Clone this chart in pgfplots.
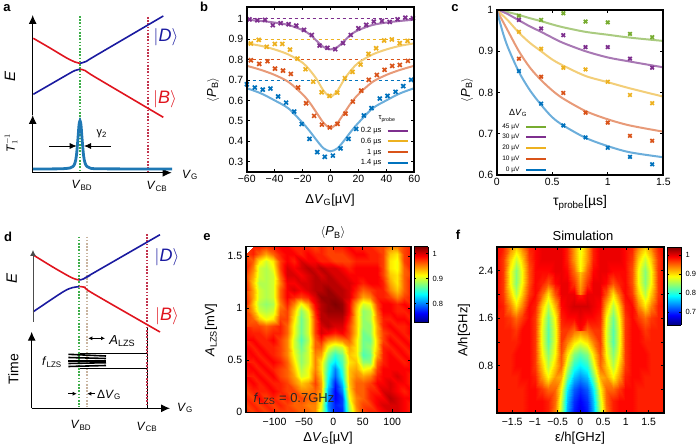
\documentclass[border=0pt]{standalone}
\usepackage{fontspec}
\setmainfont{Liberation Sans}
\usepackage{pgfplots}
\usepackage{pgfplotstable}
\pgfplotsset{compat=1.18}
\usetikzlibrary{arrows.meta}

\definecolor{cpur}{HTML}{7E2F8E}
\definecolor{cyel}{HTML}{EDB120}
\definecolor{cora}{HTML}{D95319}
\definecolor{cblu}{HTML}{0072BD}
\definecolor{cgre}{HTML}{77AC30}
\definecolor{lpur}{HTML}{A878B4}
\definecolor{lyel}{HTML}{F3CE78}
\definecolor{lora}{HTML}{E89A78}
\definecolor{lblu}{HTML}{6CAEDB}
\definecolor{lgre}{HTML}{AACB80}
\definecolor{dred}{HTML}{E0141E}
\definecolor{dblu}{HTML}{1A1AA0}
\definecolor{vgre}{HTML}{3DAE49}
\definecolor{vred}{HTML}{C2334D}
\definecolor{vtan}{HTML}{C9B49F}
\definecolor{pk}{HTML}{1F78B4}

\newcommand{\fs}[1]{\fontsize{#1}{#1}\selectfont}
\newcommand{\sub}[1]{\textsubscript{#1}}
\newcommand{\PB}{$\langle$\textit{P}\sub{B}$\rangle$}

% heatmap e, hundredths, rows from A=0 upward
\pgfplotstableread[row sep=\\,header=false]{
97\\96\\97\\96\\97\\96\\96\\96\\95\\95\\94\\89\\80\\76\\76\\87\\93\\96\\97\\97\\98\\99\\99\\98\\97\\
96\\97\\96\\97\\96\\97\\96\\95\\95\\94\\94\\90\\79\\76\\77\\88\\94\\96\\96\\98\\99\\99\\99\\98\\97\\
97\\96\\98\\96\\97\\96\\97\\95\\96\\95\\95\\92\\79\\75\\77\\90\\94\\95\\97\\98\\98\\100\\99\\98\\98\\
96\\97\\97\\97\\98\\97\\96\\96\\94\\94\\95\\93\\80\\75\\79\\91\\95\\95\\97\\97\\99\\99\\98\\97\\98\\
97\\98\\97\\98\\97\\97\\96\\94\\92\\93\\96\\93\\82\\76\\81\\92\\95\\95\\96\\98\\98\\99\\98\\98\\97\\
98\\97\\98\\97\\98\\96\\95\\93\\89\\90\\95\\92\\83\\78\\83\\92\\94\\93\\94\\97\\98\\98\\99\\98\\97\\
97\\98\\97\\98\\97\\96\\95\\92\\88\\90\\94\\91\\84\\79\\84\\92\\93\\90\\91\\96\\98\\98\\98\\98\\98\\
98\\97\\98\\97\\98\\97\\95\\91\\87\\89\\94\\91\\85\\82\\85\\91\\92\\87\\87\\95\\97\\98\\98\\97\\98\\
97\\98\\97\\98\\97\\96\\94\\90\\87\\89\\94\\93\\87\\84\\86\\92\\91\\85\\86\\93\\97\\98\\97\\98\\97\\
98\\97\\98\\97\\97\\96\\94\\89\\86\\89\\95\\95\\90\\88\\89\\93\\91\\86\\87\\92\\97\\97\\98\\97\\98\\
97\\98\\97\\97\\98\\96\\94\\89\\85\\88\\95\\97\\94\\93\\94\\95\\91\\86\\86\\92\\96\\98\\97\\98\\97\\
98\\97\\97\\96\\97\\97\\95\\90\\86\\89\\96\\99\\98\\97\\98\\96\\92\\86\\87\\93\\96\\97\\98\\97\\98\\
97\\96\\96\\95\\96\\97\\95\\90\\86\\89\\96\\99\\100\\99\\99\\96\\92\\87\\87\\93\\97\\98\\97\\97\\98\\
96\\95\\92\\90\\91\\96\\96\\91\\86\\89\\96\\100\\100\\100\\100\\97\\92\\87\\88\\94\\97\\97\\98\\98\\97\\
96\\93\\89\\88\\89\\95\\96\\92\\87\\90\\97\\100\\101\\101\\101\\98\\92\\87\\88\\95\\98\\98\\97\\97\\98\\
96\\92\\88\\87\\88\\94\\97\\94\\90\\93\\98\\100\\101\\102\\101\\98\\93\\89\\90\\96\\98\\98\\97\\98\\97\\
97\\93\\89\\88\\89\\95\\98\\97\\96\\97\\99\\101\\101\\101\\100\\99\\96\\93\\94\\97\\97\\96\\94\\96\\97\\
96\\93\\89\\88\\89\\95\\98\\99\\98\\99\\100\\100\\101\\100\\100\\99\\97\\95\\96\\97\\97\\94\\92\\95\\97\\
97\\92\\88\\88\\89\\94\\98\\98\\99\\99\\100\\100\\100\\100\\99\\99\\98\\97\\98\\98\\97\\93\\91\\95\\97\\
96\\93\\89\\88\\89\\95\\99\\99\\98\\99\\100\\99\\100\\99\\99\\98\\98\\98\\98\\98\\96\\92\\91\\95\\96\\
97\\94\\89\\88\\90\\96\\99\\98\\99\\100\\99\\100\\99\\99\\98\\97\\98\\98\\98\\98\\96\\91\\90\\95\\97\\
97\\95\\91\\89\\91\\96\\98\\97\\99\\98\\98\\97\\97\\96\\96\\96\\97\\97\\97\\97\\96\\91\\90\\96\\97\\
96\\97\\95\\93\\95\\97\\98\\98\\97\\98\\97\\97\\96\\96\\96\\97\\98\\98\\97\\97\\96\\92\\91\\96\\97\\
96\\97\\97\\96\\97\\98\\98\\97\\97\\97\\96\\97\\96\\97\\97\\98\\97\\97\\97\\96\\96\\94\\94\\96\\97\\
}\tblE

% simulation f, right half (it is mirrored), hundredths, rows from A=0 upward
\pgfplotstableread[row sep=\\,header=false]{
67\\69\\75\\86\\94\\98\\99\\99\\99\\98\\98\\98\\98\\98\\
68\\70\\76\\87\\95\\98\\99\\99\\99\\98\\98\\98\\98\\98\\
70\\72\\78\\89\\95\\95\\97\\99\\99\\98\\98\\98\\98\\98\\
74\\76\\83\\92\\93\\89\\93\\98\\99\\99\\98\\98\\98\\98\\
78\\80\\87\\95\\91\\86\\91\\97\\99\\99\\99\\98\\98\\98\\
82\\84\\90\\96\\89\\84\\89\\97\\99\\99\\99\\98\\98\\98\\
88\\90\\94\\97\\88\\82\\88\\97\\99\\99\\98\\98\\98\\98\\
94\\95\\97\\97\\88\\82\\88\\97\\99\\99\\97\\98\\98\\98\\
99\\99\\99\\98\\89\\83\\89\\97\\99\\97\\95\\97\\98\\98\\
101\\101\\100\\99\\92\\86\\91\\98\\99\\94\\90\\94\\98\\99\\
98\\100\\100\\100\\96\\90\\95\\99\\97\\91\\86\\91\\97\\99\\
94\\97\\100\\100\\99\\96\\98\\99\\96\\89\\84\\89\\97\\99\\
91\\95\\99\\100\\100\\99\\99\\99\\96\\89\\84\\89\\97\\99\\
89\\93\\98\\100\\100\\100\\100\\99\\97\\91\\87\\91\\97\\99\\
88\\93\\98\\100\\100\\100\\100\\99\\98\\94\\91\\94\\98\\99\\
}\tblF

\pgfplotsset{
  panel/.style={scale only axis, anchor=south west, tick align=inside, separate axis lines,
    every tick/.style={black, line width=0.6pt}, major tick length=3pt,
    tick label style={font=\fs{10.5}}, axis on top},
  heat/.style={panel, colormap/jet, enlargelimits=false,
    xticklabel style={yshift=-2pt}},
  colorbar shift/.style={xshift=3.3pt},
  cbar/.style={colorbar, colorbar style={at={(parent axis.north east)},
    anchor=north west, width=13.7pt, height=#1, separate axis lines, axis line style={line width=0.9pt},
    major tick length=2pt, yticklabel pos=right,
    yticklabel style={font=\fs{7.5}, xshift=1pt}, xtick=\empty}},
}

\begin{document}
\begin{tikzpicture}[x=1pt,y=1pt]
\useasboundingbox (0,0) rectangle (696pt,446pt);

% ---- panel b
\begin{axis}[panel, at={(246.7pt,274.3pt)}, width=167.6pt, height=164.4pt,
  xmin=-60, xmax=60, ymin=0.25, ymax=1.057,
  xtick={-60,-40,-20,0,20,40,60}, xticklabels={−60,−40,−20,0,20,40,60},
  ytick={0.3,0.4,0.5,0.6,0.7,0.8,0.9,1}, yticklabels={0.3,0.4,0.5,0.6,0.7,0.8,0.9,1}]
\addplot[color=cpur, dashed, line width=0.9pt] coordinates {(-60,1) (60,1)};
\addplot[color=cyel, dashed, line width=0.9pt] coordinates {(-60,0.9) (60,0.9)};
\addplot[color=cora, dashed, line width=0.9pt] coordinates {(-60,0.8) (60,0.8)};
\addplot[color=cblu, dashed, line width=0.9pt] coordinates {(-60,0.7) (60,0.7)};
\addplot[lpur, line width=2pt, smooth] coordinates {(-60,.996) (-50,.99) (-40,.982) (-30,.97) (-20,.945) (-15,.925) (-10,.893) (-5,.862) (0,.85) (5,.862) (10,.893) (15,.925) (20,.945) (30,.97) (40,.982) (50,.99) (60,.996)};
\addplot[lyel, line width=2pt, smooth] coordinates {(-60,.88) (-50,.868) (-40,.85) (-30,.825) (-20,.785) (-15,.75) (-10,.705) (-5,.648) (0,.618) (5,.648) (10,.705) (15,.75) (20,.785) (30,.825) (40,.85) (50,.868) (60,.88)};
\addplot[lora, line width=2pt, smooth] coordinates {(-60,.77) (-50,.75) (-40,.725) (-30,.69) (-20,.63) (-15,.59) (-10,.54) (-5,.49) (0,.465) (5,.49) (10,.54) (15,.59) (20,.63) (30,.69) (40,.725) (50,.75) (60,.77)};
\addplot[lblu, line width=2pt, smooth] coordinates {(-60,.66) (-50,.635) (-40,.60) (-30,.56) (-20,.49) (-15,.45) (-10,.405) (-5,.365) (0,.35) (5,.365) (10,.405) (15,.45) (20,.49) (30,.56) (40,.60) (50,.635) (60,.66)};
\addplot[only marks, cpur, mark=x, mark size=2.8pt, mark options={line width=1.7pt}] coordinates {(-58,.998) (-52.4,.993) (-46.9,.995) (-41.3,.969) (-35.7,.979) (-30,.974) (-24.5,.967) (-19,.946) (-13.4,.921) (-7.8,.869) (-2.2,.858) (3.4,.851) (9,.881) (14.5,.921) (20,.954) (25.6,.971) (31,.987) (36.8,.99) (42.4,.985) (48,.998) (53.6,1.006) (59,1.003)};
\addplot[only marks, cyel, mark=x, mark size=2.8pt, mark options={line width=1.7pt}] coordinates {(-57,.879) (-51.4,.897) (-45.7,.863) (-39.9,.877) (-34.5,.877) (-29,.849) (-23.6,.805) (-17.9,.753) (-12.4,.692) (-6.4,.640) (-0.7,.622) (4.8,.638) (10.3,.709) (15.8,.74) (21.5,.776) (27.2,.828) (32.7,.856) (38.4,.894) (43.9,.899) (49.6,.881) (55.1,.892)};
\addplot[only marks, cora, mark=x, mark size=2.8pt, mark options={line width=1.7pt}] coordinates {(-57,.797) (-51,.779) (-45.1,.792) (-39.7,.756) (-34,.746) (-28.4,.730) (-23.2,.663) (-17.5,.586) (-11.7,.524) (-6.2,.481) (-0.5,.467) (5,.485) (10.7,.535) (16,.594) (22,.648) (27.4,.701) (33.2,.725) (38.7,.75) (44.2,.769) (49.6,.774) (55.4,.794)};
\addplot[only marks, cblu, mark=x, mark size=2.8pt, mark options={line width=1.7pt}] coordinates {(-59.9,.679) (-54.2,.663) (-48.5,.653) (-43,.658) (-37.5,.619) (-31.8,.589) (-26,.545) (-20.6,.484) (-15,.411) (-9.5,.346) (-4.1,.323) (1.7,.329) (7.2,.364) (12.9,.411) (18.4,.46) (23.9,.526) (29.4,.562) (35.3,.609) (40.8,.622) (46.6,.642) (52.1,.67) (57.8,.701)};
\end{axis}

% ---- panel c
\begin{axis}[panel, at={(496.7pt,271pt)}, width=166.6pt, height=165pt,
  xmin=0, xmax=1.5, ymin=0.6, ymax=1,
  xtick={0,0.5,1,1.5}, xticklabels={0,0.5,1,1.5},
  ytick={0.6,0.7,0.8,0.9,1}, yticklabels={0.6,0.7,0.8,0.9,1}]
\addplot[lgre, line width=2pt, smooth] coordinates {(0,1) (.05,.998) (.1,.995) (.2,.988) (.3,.98) (.4,.973) (.5,.965) (.6,.958) (.8,.947) (1,.94) (1.2,.933) (1.5,.925)};
\addplot[lpur, line width=2pt, smooth] coordinates {(0,1) (.05,.996) (.1,.99) (.2,.975) (.3,.96) (.4,.947) (.5,.933) (.6,.92) (.8,.90) (1,.885) (1.2,.875) (1.5,.861)};
\addplot[lyel, line width=2pt, smooth] coordinates {(0,1) (.05,.988) (.1,.975) (.2,.945) (.3,.92) (.4,.90) (.5,.88) (.6,.865) (.8,.84) (1,.825) (1.2,.81) (1.5,.79)};
\addplot[lora, line width=2pt, smooth] coordinates {(0,1) (.05,.975) (.1,.95) (.2,.90) (.3,.86) (.4,.83) (.5,.805) (.6,.785) (.8,.755) (1,.735) (1.2,.72) (1.5,.705)};
\addplot[lblu, line width=2pt, smooth] coordinates {(0,1) (.05,.95) (.1,.91) (.2,.85) (.3,.805) (.4,.77) (.5,.74) (.6,.72) (.8,.69) (1,.67) (1.2,.655) (1.5,.643)};
\addplot[only marks, cgre, mark=x, mark size=2.5pt, mark options={line width=1.7pt}] coordinates {(.2,.986) (.4,.976) (.6,.992) (.8,.972) (1,.970) (1.2,.942) (1.4,.934)};
\addplot[only marks, cpur, mark=x, mark size=2.5pt, mark options={line width=1.7pt}] coordinates {(.2,.976) (.4,.955) (.6,.939) (.8,.910) (1,.910) (1.2,.882) (1.4,.860)};
\addplot[only marks, cyel, mark=x, mark size=2.5pt, mark options={line width=1.7pt}] coordinates {(.2,.947) (.4,.906) (.6,.860) (.8,.856) (1,.826) (1.2,.794) (1.4,.774)};
\addplot[only marks, cora, mark=x, mark size=2.5pt, mark options={line width=1.7pt}] coordinates {(.2,.882) (.4,.838) (.6,.799) (.8,.751) (1,.727) (1.2,.695) (1.4,.683)};
\addplot[only marks, cblu, mark=x, mark size=2.5pt, mark options={line width=1.7pt}] coordinates {(.2,.852) (.4,.773) (.6,.720) (.8,.691) (1,.666) (1.2,.644) (1.4,.626)};
\end{axis}

% ---- panel e
\begin{axis}[heat, at={(245.7pt,33.7pt)}, width=165.3pt, height=165.6pt,
  xmin=-149, xmax=132, ymin=0, ymax=1.59,
  point meta min=0.723, point meta max=1.027,
  xtick={-100,-50,0,50,100}, xticklabels={−100,−50,0,50,100},
  ytick={0,0.5,1,1.5}, yticklabels={0,0.5,1,1.5},
  cbar=76pt, colorbar style={ytick={0.8,0.9,1}, yticklabels={0.8,0.9,1}}]
\addplot[surf, shader=interp, mesh/cols=25, point meta=explicit] table[x index=0, y index=0,
  x expr={-149+11.7083*mod(\coordindex,25)},
  y expr={0.06913*floor(\coordindex/25)},
  meta expr={(\thisrowno{0}+1)/100}] {\tblE};
\end{axis}

% ---- panel f
\begin{axis}[heat, at={(496.7pt,33pt)}, width=167.3pt, height=166pt,
  xmin=-1.84, xmax=1.84, ymin=0, ymax=2.8,
  point meta min=0.63, point meta max=1.044,
  xtick={-1.5,-1,-0.5,0,0.5,1,1.5}, xticklabels={−1.5,−1,−0.5,0,0.5,1,1.5},
  ytick={0.4,0.8,1.2,1.6,2,2.4}, yticklabels={,0.8,,1.6,,2.4},
  cbar=78pt, colorbar style={ytick={0.7,0.8,0.9,1}, yticklabels={0.7,0.8,0.9,1}}]
\addplot[surf, shader=interp, mesh/cols=14, point meta=explicit] table[x index=0, y index=0,
  x expr={0.14154*mod(\coordindex,14)},
  y expr={0.2*floor(\coordindex/14)},
  meta expr={\thisrowno{0}/100}] {\tblF};
\addplot[surf, shader=interp, mesh/cols=14, point meta=explicit] table[x index=0, y index=0,
  x expr={-0.14154*mod(\coordindex,14)},
  y expr={0.2*floor(\coordindex/14)},
  meta expr={\thisrowno{0}/100}] {\tblF};
\end{axis}

% ---- overlay in picture pixels: diagrams a and d, labels, legends
\begin{axis}[scale only axis, at={(0pt,0pt)}, anchor=south west, width=696pt, height=446pt,
  xmin=0, xmax=696, ymin=0, ymax=446, y dir=reverse, hide axis, clip=false]
% panel frames
\draw[black, line width=2pt] (246.7,7.3) rectangle (414.3,171.7);
\draw[black, line width=1.7pt] (496.7,10) rectangle (663.3,175);
\draw[black, line width=1.2pt] (245.7,246.7) rectangle (411,412.3);
\draw[black, line width=1.3pt] (496.7,247) rectangle (664,413);
% a
\addplot[color=vgre, dash pattern=on 1.6pt off 1.6pt, line width=1.8pt] coordinates {(79.7,16) (79.7,172)};
\addplot[color=vred, dash pattern=on 1.6pt off 1.6pt, line width=1.8pt] coordinates {(148.3,17) (148.3,172)};
\addplot[dred, line width=1.6pt, smooth] coordinates {(33.3,38.3) (50,48) (66.7,58) (75,62) (80,63.3)};
\addplot[dblu, line width=1.6pt, smooth] coordinates {(80,63.3) (86,61.5) (95,56) (163.3,16)};
\addplot[dblu, line width=1.6pt, smooth] coordinates {(33.3,94.3) (66.7,75) (75,70.5) (80,69.3)};
\addplot[dred, line width=1.6pt, smooth] coordinates {(80,69.3) (85,70.5) (95,77) (163.3,117.3)};
\addplot[black, line width=1pt, -{Latex[length=9pt,width=8pt]}] coordinates {(32.7,115) (32.7,15)};
\addplot[black, line width=1pt, -{Latex[length=9pt,width=8pt]}] coordinates {(32.7,172.7) (32.7,115)};
\addplot[black, line width=1pt, -{Latex[length=9pt,width=8pt]}] coordinates {(32.7,172.7) (171.7,172.7)};
\addplot[pk, line width=2.8pt, smooth] coordinates {(33,169) (60,168.8) (70,168) (73,166.5) (75,163) (76.5,155) (78,138) (79,125) (80,120.7) (81,125) (82,138) (83.5,155) (85,163) (87,166.5) (90,168) (100,168.8) (172,169)};
\addplot[black, line width=0.8pt, -{Latex[length=7pt,width=6pt]}] coordinates {(49.3,146) (76.7,146)};
\addplot[black, line width=0.8pt, -{Latex[length=7pt,width=6pt]}] coordinates {(110.7,146) (84,146)};
\node[font=\fs{11}] at (101.7,134) {γ\sub{2}};
\node[font=\fs{15},rotate=90] at (10,76) {\textit{E}};
\node[font=\fs{12},rotate=90] at (11,143) {\textit{T}$_1^{-1}$};
\node[font=\fs{18},text=dblu] at (166,37) {$|$\textit{D}$\rangle$};
\node[font=\fs{18},text=dred] at (165,99) {$|$\textit{B}$\rangle$};
\node[font=\fs{12}] at (82,185) {\textit{V}\sub{BD}};
\node[font=\fs{12}] at (157,186.5) {\textit{V}\sub{CB}};
\node[font=\fs{12}] at (190,175) {\textit{V}\sub{G}};
% d
\addplot[color=vgre, dash pattern=on 1.6pt off 1.6pt, line width=1.8pt] coordinates {(79.3,236.7) (79.3,406.7)};
\addplot[color=vtan, dash pattern=on 1.6pt off 1.6pt, line width=1.8pt] coordinates {(87.3,236.7) (87.3,406.7)};
\addplot[black, line width=1pt] coordinates {(147.3,326.7) (147.3,408.3)};
\addplot[color=vred, dash pattern=on 1.6pt off 1.6pt, line width=1.8pt] coordinates {(147.3,234) (147.3,406.7)};
\addplot[black, line width=1pt] coordinates {(80,353.7) (147.3,353.7)};
\addplot[black, line width=1pt] coordinates {(80,368.7) (147.3,368.7)};
\addplot[black, line width=1.6pt] coordinates {(68.3,354.3) (106,356)};
\addplot[black, line width=1.6pt] coordinates {(68.3,357.5) (106,358.5)};
\addplot[black, line width=1.6pt] coordinates {(68.3,360.7) (106,360.7)};
\addplot[black, line width=1.6pt] coordinates {(68.3,363.5) (106,362.7)};
\addplot[black, line width=1.6pt] coordinates {(68.3,366.5) (106,365.5)};
\addplot[dred, line width=1.6pt, smooth] coordinates {(33.3,255) (53.3,267.3) (71.7,277.7) (79.3,280)};
\addplot[dblu, line width=1.6pt, smooth] coordinates {(79.3,280) (83.3,279) (90,275) (160,234.7)};
\addplot[dblu, line width=1.6pt, smooth] coordinates {(33.3,311.7) (63.3,291.7) (73,287.5) (79.3,286.7)};
\addplot[dred, line width=1.6pt, smooth] coordinates {(79.3,286.7) (85,287.3) (91.7,292.7) (160,332)};
\addplot[black!70, line width=0.8pt, -{Latex[length=6pt,width=6pt]}] coordinates {(33,321.7) (33,250)};
\addplot[black, line width=1pt, -{Latex[length=9pt,width=8pt]}] coordinates {(31.7,408.3) (31.7,331.7)};
\addplot[black, line width=1pt, -{Latex[length=9pt,width=8pt]}] coordinates {(31.7,408.3) (170,408.3)};
\addplot[black, line width=0.7pt, {Latex[length=4pt,width=4pt]}-{Latex[length=4pt,width=4pt]}] coordinates {(88.3,338.3) (105,338.3)};
\addplot[black, line width=0.7pt, -{Latex[length=4pt,width=4pt]}] coordinates {(68.3,393.7) (76.7,393.7)};
\addplot[black, line width=0.7pt, -{Latex[length=4pt,width=4pt]}] coordinates {(95,393.7) (87.3,393.7)};
\node[font=\fs{13}] at (122.3,341) {\textit{A}\sub{LZS}};
\node[font=\fs{12}] at (52,362) {\textit{f}\sub{LZS}};
\node[font=\fs{12}] at (109,395) {Δ\textit{V}\sub{G}};
\node[font=\fs{12}] at (81,425) {\textit{V}\sub{BD}};
\node[font=\fs{12}] at (147,427) {\textit{V}\sub{CB}};
\node[font=\fs{12}] at (185,408) {\textit{V}\sub{G}};
\node[font=\fs{14},rotate=90] at (13.3,369) {Time};
\node[font=\fs{15},rotate=90] at (11.7,278) {\textit{E}};
\node[font=\fs{18},text=dblu] at (167,257) {$|$\textit{D}$\rangle$};
\node[font=\fs{18},text=dred] at (167,316) {$|$\textit{B}$\rangle$};
% panel letters
\node[font=\fs{13}\bfseries] at (7,8) {a};
\node[font=\fs{13}\bfseries] at (204,7) {b};
\node[font=\fs{13}\bfseries] at (455,8) {c};
\node[font=\fs{13}\bfseries] at (8,237) {d};
\node[font=\fs{13}\bfseries] at (207,237) {e};
\node[font=\fs{13}\bfseries] at (458,235) {f};
% b labels and legend
\node[font=\fs{13},rotate=90] at (213,90) {\PB};
\node[font=\fs{13}] at (330,200) {Δ\textit{V}\sub{G}[µV]};
\node[font=\fs{7.5},anchor=east] at (399,119) {τ\sub{probe}};
\node[font=\fs{7.5},anchor=east] at (385,131) {0.2 µs};
\node[font=\fs{7.5},anchor=east] at (385,141.3) {0.6 µs};
\node[font=\fs{7.5},anchor=east] at (385,152.3) {1 µs};
\node[font=\fs{7.5},anchor=east] at (385,162.7) {1.4 µs};
\addplot[cpur, line width=1.7pt] coordinates {(387.7,131) (407.7,131)};
\addplot[cyel, line width=1.7pt] coordinates {(387.7,141.3) (407.7,141.3)};
\addplot[cora, line width=1.7pt] coordinates {(387.7,152.3) (407.7,152.3)};
\addplot[cblu, line width=1.7pt] coordinates {(387.7,162.7) (407.7,162.7)};
% c labels and legend
\node[font=\fs{13},rotate=90] at (467,90) {\PB};
\node[font=\fs{14}] at (580,203) {τ\sub{probe}[µs]};
\node[font=\fs{9}] at (518,113) {Δ\textit{V}\sub{G}};
\node[font=\fs{6.5},anchor=east] at (523,126.7) {45 µV};
\node[font=\fs{6.5},anchor=east] at (523,137.3) {30 µV};
\node[font=\fs{6.5},anchor=east] at (523,148.3) {20 µV};
\node[font=\fs{6.5},anchor=east] at (523,159) {10 µV};
\node[font=\fs{6.5},anchor=east] at (523,169.7) {0 µV};
\addplot[cgre, line width=1.7pt] coordinates {(526,126.7) (546,126.7)};
\addplot[cpur, line width=1.7pt] coordinates {(526,137.3) (546,137.3)};
\addplot[cyel, line width=1.7pt] coordinates {(526,148.3) (546,148.3)};
\addplot[cora, line width=1.7pt] coordinates {(526,159) (546,159)};
\addplot[cblu, line width=1.7pt] coordinates {(526,169.7) (546,169.7)};
% e labels
\node[font=\fs{13}] at (333,233) {\PB};
\node[font=\fs{13},rotate=90] at (211,330) {\textit{A}\sub{LZS}[mV]};
\node[font=\fs{13}] at (328,438) {Δ\textit{V}\sub{G}[µV]};
\node[font=\fs{13},anchor=west,text=black!85] at (250,399) {\textit{f}\sub{LZS} = 0.7GHz};
% f labels
\node[font=\fs{13}] at (583,236) {Simulation};
\node[font=\fs{13},rotate=90] at (464,330) {A/h[GHz]};
\node[font=\fs{13}] at (580,438) {ε/h[GHz]};
\end{axis}
\end{tikzpicture}
\end{document}
